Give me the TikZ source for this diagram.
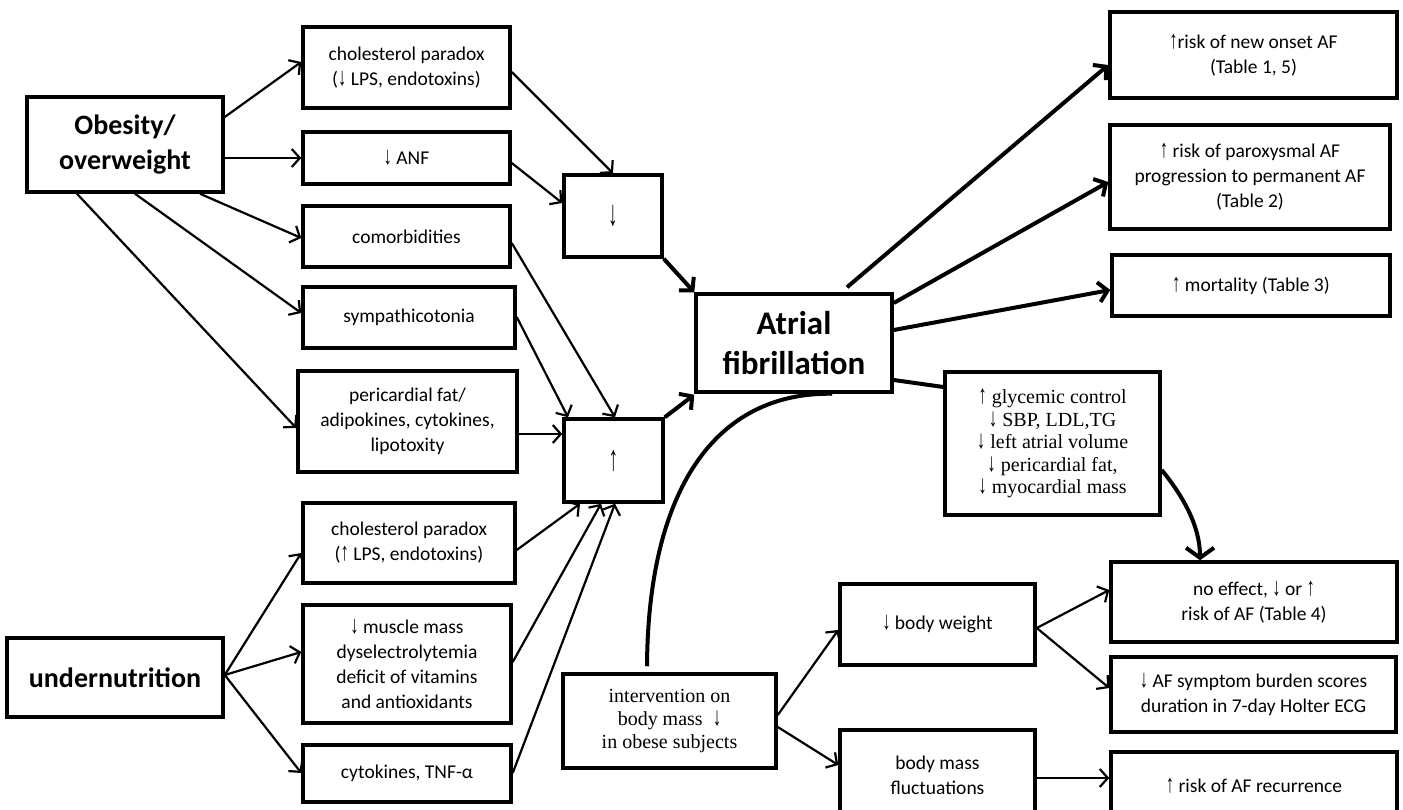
\documentclass[tikz,border=0pt]{standalone}
\usepackage{fontspec}
\setmainfont{Carlito}
\newfontfamily\tms{Liberation Serif}
\newfontfamily\arrf{Liberation Sans}
\newcommand\UA{{\arrf\scalebox{0.85}[1.3]{↑}}}
\newcommand\DA{{\arrf\scalebox{0.85}[1.3]{↓}}}
\newcommand\TUA{\scalebox{0.85}[1.3]{↑}}
\newcommand\TDA{\scalebox{0.85}[1.3]{↓}}
\newcommand\BUA{{\arrf\scalebox{0.8}[1.5]{↑}}}
\newcommand\BDA{{\arrf\scalebox{0.8}[1.5]{↓}}}
\usetikzlibrary{arrows.meta,calc}
\tikzset{
  box/.style={draw, line width=3.5pt, inner sep=0pt, align=center,
    font=\fontsize{19.5}{25}\selectfont},
  big/.style={box, font=\fontsize{28}{35}\selectfont\bfseries},
  serifbox/.style={box, font=\fontsize{20}{22.5}\selectfont\tms},
  thin/.style={line width=2.2pt, -{Straight Barb[length=8pt,width=18pt]}},
  thick/.style={line width=4pt, -{Straight Barb[length=9pt,width=20pt]}},
  thickline/.style={line width=4pt},
}
\begin{document}
\begin{tikzpicture}[x=1pt,y=-1pt]
\useasboundingbox (0,0) rectangle (1403,810);
\clip (0,0) rectangle (1403,810);
% left column sources
\node[big, minimum width=196pt, minimum height=95pt] (obes) at (125,144.5) {Obesity/\\overweight};
\node[big, minimum width=216pt, minimum height=79pt] (undern) at (115,677.5) {undernutrition};
% middle column
\node[box, minimum width=207pt, minimum height=81pt] (chol1) at (406.5,67.5) {cholesterol paradox\\(\DA{} LPS, endotoxins)};
\node[box, minimum width=207pt, minimum height=52pt] (anf) at (406.5,158) {\DA{} ANF};
\node[box, minimum width=207pt, minimum height=61pt] (comor) at (406.5,236.5) {comorbidities};
\node[box, minimum width=212pt, minimum height=61pt] (symp) at (409,317.5) {sympathicotonia};
\node[box, minimum width=219pt, minimum height=101pt] (peri) at (407.5,421.5) {pericardial fat/\\adipokines, cytokines,\\lipotoxity};
\node[box, minimum width=212pt, minimum height=80pt] (chol2) at (409,543) {cholesterol paradox\\(\UA{} LPS, endotoxins)};
\node[box, minimum width=208pt, minimum height=118pt] (muscle) at (407,664) {\DA{} muscle mass\\dyselectrolytemia\\deficit of vitamins\\and antioxidants};
\node[box, minimum width=208pt, minimum height=57pt] (cyto) at (407,773.5) {cytokines, TNF-α};
% aggregators
\node[box, minimum width=98pt, minimum height=82pt, font=\fontsize{24}{30}\selectfont] (down) at (613,216) {\BDA};
\node[box, minimum width=99pt, minimum height=83pt, font=\fontsize{24}{30}\selectfont] (up) at (613.5,460.5) {\BUA};
% atrial fibrillation
\node[box, minimum width=196pt, minimum height=98pt, font=\fontsize{33}{40}\selectfont\bfseries] (af) at (794,343) {Atrial\\fibrillation};
% outcomes
\node[box, minimum width=287pt, minimum height=86pt] (onset) at (1253.5,55) {\UA risk of new onset AF\\(Table 1, 5)};
\node[box, minimum width=280pt, minimum height=104pt] (parox) at (1250,177) {\UA{} risk of paroxysmal AF\\progression to permanent AF\\(Table 2)};
\node[box, minimum width=278pt, minimum height=61pt] (mort) at (1251,285.5) {\UA{} mortality (Table 3)};
\node[serifbox, minimum width=215pt, minimum height=143pt] (glyc) at (1052.5,443.5) {\TUA{} glycemic control\\\TDA{} SBP, LDL,TG\\\TDA{} left atrial volume\\\TDA{} pericardial fat,\\\TDA{} myocardial mass};
\node[box, minimum width=286pt, minimum height=80pt] (noeff) at (1254,602) {no effect, \DA{} or \UA\\risk of AF (Table 4)};
\node[box, minimum width=285pt, minimum height=75pt] (symb) at (1253.5,694.5) {\DA{} AF symptom burden scores\\duration in 7-day Holter ECG};
\node[box, minimum width=286pt, minimum height=68pt] (recur) at (1254,786) {\UA{} risk of AF recurrence};
% intervention
\node[serifbox, minimum width=213pt, minimum height=94pt, font=\fontsize{20}{23}\selectfont\tms] (interv) at (669.5,721) {intervention on\\body mass~~\TDA\\in obese subjects};
\node[box, minimum width=195pt, minimum height=81pt] (bw) at (937.5,624.5) {\DA{} body weight};
\node[box, minimum width=195pt, minimum height=90pt] (bmf) at (937.5,775) {body mass\\fluctuations};

% obesity arrows
\draw[thin] ($(obes.east)+(0,-27.5)$) -- ($(chol1.west)+(0,-5.5)$);
\draw[thin] (obes.east|-anf.west) -- (anf.west);
\draw[thin] ($(obes.south)+(75,0)$) -- ($(comor.west)+(0,1.5)$);
\draw[thin] ($(obes.south)+(10,0)$) -- ($(symp.west)+(0,-4.5)$);
\draw[thin] ($(obes.south)+(-48,0)$) -- ($(peri.west)+(0,6.5)$);
% undernutrition arrows
\draw[thin] ($(undern.east)+(0,-2.5)$) -- ($(chol2.west)+(0,10)$);
\draw[thin] ($(undern.east)+(0,-2.5)$) -- ($(muscle.west)+(0,-12)$);
\draw[thin] ($(undern.east)+(0,-2.5)$) -- ($(cyto.west)+(0,-0.5)$);
% into down box
\draw[thin] ($(chol1.east)+(0,4.5)$) -- (down.north);
\draw[thin] ($(anf.east)+(0,5)$) -- ($(down.west)+(0,-13)$);
% into up box
\draw[thin] ($(comor.east)+(0,6.5)$) -- ($(up.north)+(1.5,0)$);
\draw[thin] ($(symp.east)+(0,-0.5)$) -- ($(up.north)+(-45.5,0)$);
\draw[thin] ($(peri.east)+(0,12.5)$) -- ($(up.west)+(0,-26.5)$);
\draw[thin] ($(chol2.east)+(0,7)$) -- ($(up.south)+(-33.5,0)$);
\draw[thin] ($(muscle.east)+(0,-2)$) -- ($(up.south)+(-12.5,0)$);
\draw[thin] ($(cyto.east)+(0,-0.5)$) -- ($(up.south)+(1.5,0)$);
% into AF
\draw[thick] (down.south east) -- (af.north west);
\draw[thick] (up.north east) -- ($(af.south west)+(0,1)$);
% AF outcomes
\draw[thick] ($(af.north)+(53,-5)$) -- ($(onset.west)+(0,10)$);
\draw[thick] ($(af.east)+(0,-40)$) -- ($(parox.west)+(0,5)$);
\draw[thick] ($(af.east)+(0,-13)$) -- ($(mort.west)+(0,4.5)$);
\draw[thickline] ($(af.east)+(0,37)$) -- ($(glyc.west)+(0,-56.5)$);
% intervention curve to AF
\draw[thickline] ($(interv.north)+(-22.5,-6)$) .. controls (648,490) and (715,392) .. ($(af.south)+(38,0)$);
% glycemic to no effect
\draw[line width=4pt, -{Straight Barb[length=10pt,width=28pt]}] ($(glyc.east)+(0,26.5)$) .. controls (1182,495) and (1200,525) .. ($(noeff.north)+(-54,0)$);
% intervention outputs
\draw[thin] ($(interv.east)+(0,-6)$) -- ($(bw.west)+(0,5.5)$);
\draw[thin] ($(interv.east)+(0,6)$) -- ($(bmf.west)+(0,-10)$);
\draw[thin] ($(bw.east)+(0,3.5)$) -- ($(noeff.west)+(0,-12)$);
\draw[thin] ($(bw.east)+(0,3.5)$) -- ($(symb.west)+(0,-6.5)$);
\draw[thin] ($(bmf.east)+(0,3)$) -- ($(recur.west)+(0,-8)$);
\end{tikzpicture}
\end{document}
